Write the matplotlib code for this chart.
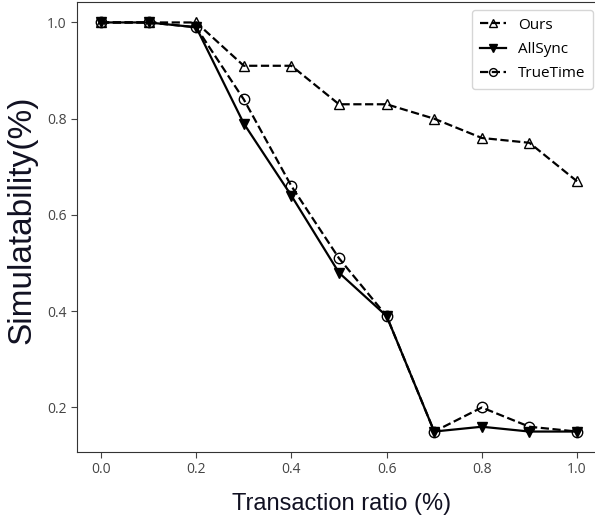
import matplotlib
matplotlib.use("Agg")
import matplotlib.pyplot as plt

# data
ratio = [0.0, 0.1, 0.2, 0.3, 0.4, 0.5, 0.6, 0.7, 0.8, 0.9, 1.0]
ours = [1.0, 1.0, 1.0, 0.91, 0.91, 0.83, 0.83, 0.80, 0.76, 0.75, 0.67]
allsync = [1.0, 1.0, 0.99, 0.79, 0.64, 0.48, 0.39, 0.15, 0.16, 0.15, 0.15]
truetime = [1.0, 1.0, 0.99, 0.84, 0.66, 0.51, 0.39, 0.15, 0.20, 0.16, 0.15]
yticks = [0.2, 0.4, 0.6, 0.8, 1.0]
xticks = [0.0, 0.2, 0.4, 0.6, 0.8, 1.0]

fig = plt.figure(figsize=(5.95, 5.24), dpi=100)
ax = fig.add_axes([77 / 595, 72 / 524, 530 / 595, 450 / 524])

ax.plot(ratio, ours, 'k--', marker='^', markerfacecolor='none', markersize=7.5, lw=1.6, label='Ours')
ax.plot(ratio, allsync, 'k-', marker='v', markersize=7.5, lw=1.6, label='AllSync')
ax.plot(ratio, truetime, 'k--', marker='o', markerfacecolor='none', markersize=7.5, lw=1.6, label='TrueTime')
# right spine sits just past the image edge, as in the original crop
ax.set_xlim(-0.0504, 1.063)

ax.set_xticks(xticks)
ax.set_yticks(yticks)
for lab in ax.get_xticklabels() + ax.get_yticklabels():
    lab.set_fontfamily('Open Sans')
    lab.set_fontsize(10)
    lab.set_color('#444444')
ax.tick_params(colors='#444444', length=4)
for s in ax.spines.values():
    s.set_color('#333333')

ax.set_xlabel('Transaction ratio (%)', fontsize=17, family='Liberation Sans', color='#111122', labelpad=11)
ax.set_ylabel('Simulatability(%)', fontsize=24, family='Liberation Sans', color='#111122')
ax.yaxis.set_label_coords(-0.0755, 0.515)

leg = ax.legend(loc='upper right', bbox_to_anchor=(0.974, 0.982), borderaxespad=0,
                prop={'family': 'Open Sans', 'size': 11},
                markerscale=0.75, handlelength=1.7, labelspacing=0.6, borderpad=0.5)

plt.savefig('out.png', dpi=100)
